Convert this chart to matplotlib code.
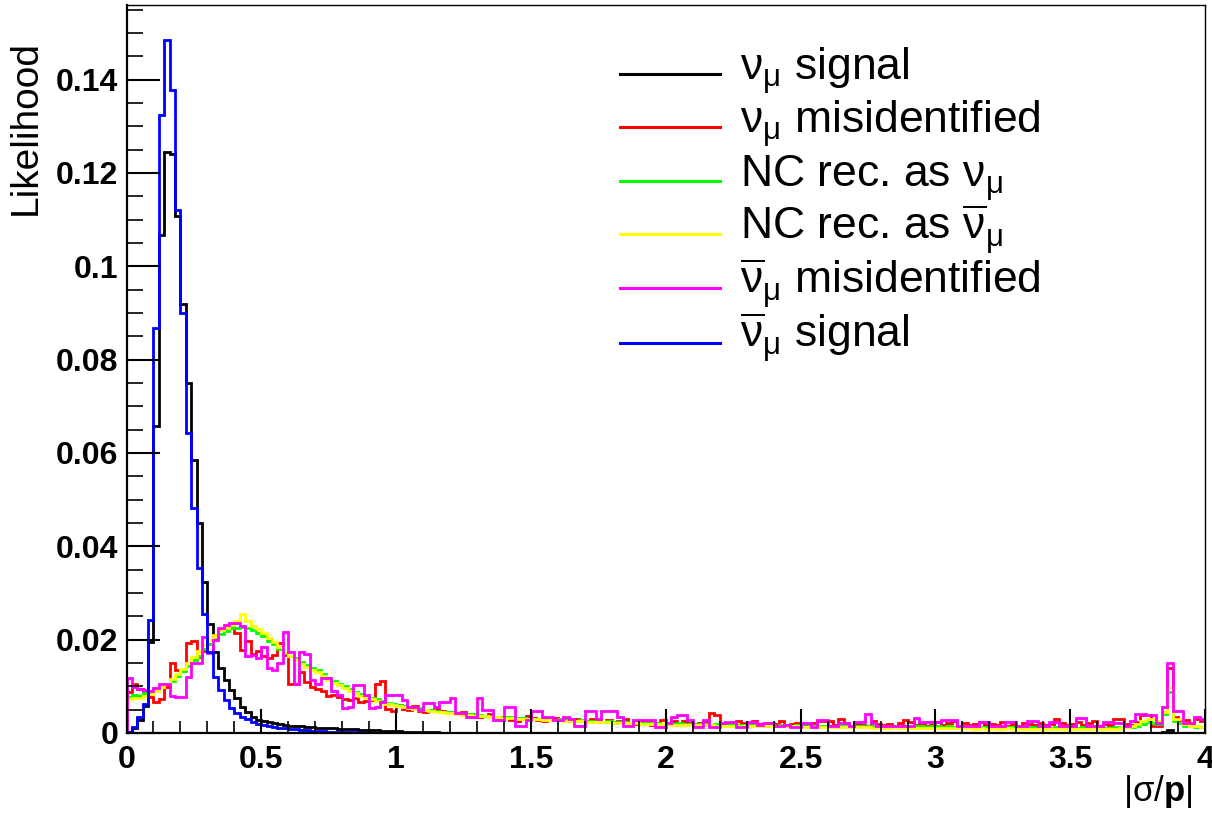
import numpy as np
import matplotlib.pyplot as plt
from matplotlib.lines import Line2D
from matplotlib.ticker import MultipleLocator, FormatStrFormatter

plt.rcParams['font.family'] = 'Liberation Sans'
plt.rcParams['mathtext.fontset'] = 'custom'
plt.rcParams['mathtext.rm'] = 'Liberation Sans'
plt.rcParams['mathtext.it'] = 'Liberation Sans:italic'
plt.rcParams['mathtext.bf'] = 'Liberation Sans:bold'

# 200 bins of 0.02 in |sigma/p|, normalised to unit area
edges = np.linspace(0, 4, 201)

numu_signal = [
    0.0002, 0.0010, 0.0028, 0.0058, 0.0196, 0.0657, 0.1067, 0.1246, 0.1240, 0.1108,
    0.0920, 0.0749, 0.0584, 0.0449, 0.0323, 0.0234, 0.0174, 0.0139, 0.0114, 0.0092,
    0.0074, 0.0056, 0.0046, 0.0035, 0.0028, 0.0025, 0.0023, 0.0021, 0.0019, 0.0018,
    0.0016, 0.0015, 0.0014, 0.0013, 0.0012, 0.0011, 0.0011, 0.0010, 0.0010, 0.0009,
    0.0009, 0.0008, 0.0008, 0.0007, 0.0007, 0.0006, 0.0006, 0.0005, 0.0005, 0.0004,
    0.0004, 0.0003, 0.0003, 0.0003, 0.0002, 0.0002, 0.0002, 0.0002, 0.0001, 0.0001,
] + [0.0001, 0.0, 0.0, 0.0001, 0.0, 0.0, 0.0, 0.0001, 0.0, 0.0] * 13 + [
    0.0, 0.0, 0.0002, 0.0006, 0.0001, 0.0, 0.0, 0.0, 0.0, 0.0,
]

numu_misid = [
    0.0088, 0.0104, 0.0095, 0.0090, 0.0078, 0.0066, 0.0072, 0.0098, 0.0150, 0.0136,
    0.0136, 0.0192, 0.0198, 0.0162, 0.0175, 0.0190, 0.0210, 0.0222, 0.0226, 0.0228,
    0.0215, 0.0178, 0.0198, 0.0170, 0.0176, 0.0165, 0.0160, 0.0168, 0.0192, 0.0168,
    0.0106, 0.0106, 0.0130, 0.0110, 0.0098, 0.0094, 0.0090, 0.0080, 0.0082, 0.0078,
    0.0072, 0.0070, 0.0074, 0.0066, 0.0068, 0.0070, 0.0106, 0.0112, 0.0052, 0.0048,
    0.0060, 0.0052, 0.0050, 0.0058, 0.0048, 0.0046, 0.0050, 0.0052, 0.0048, 0.0044,
    0.0046, 0.0042, 0.0046, 0.0040, 0.0038, 0.0034, 0.0036, 0.0040, 0.0034, 0.0030,
    0.0034, 0.0028, 0.0026, 0.0030, 0.0036, 0.0032, 0.0028, 0.0026, 0.0030, 0.0032,
    0.0028, 0.0032, 0.0026, 0.0030, 0.0026, 0.0026, 0.0030, 0.0026, 0.0024, 0.0028,
    0.0022, 0.0026, 0.0030, 0.0022, 0.0020, 0.0024, 0.0026, 0.0018, 0.0022, 0.0028,
    0.0022, 0.0026, 0.0020, 0.0026, 0.0022, 0.0020, 0.0022, 0.0026, 0.0042, 0.0039,
    0.0022, 0.0020, 0.0018, 0.0026, 0.0022, 0.0018, 0.0026, 0.0020, 0.0016, 0.0022,
    0.0020, 0.0026, 0.0018, 0.0020, 0.0022, 0.0018, 0.0016, 0.0022, 0.0026, 0.0026,
    0.0026, 0.0018, 0.0030, 0.0022, 0.0016, 0.0020, 0.0018, 0.0016, 0.0026, 0.0020,
    0.0018, 0.0020, 0.0014, 0.0022, 0.0028, 0.0024, 0.0018, 0.0022, 0.0016, 0.0018,
    0.0024, 0.0018, 0.0022, 0.0026, 0.0016, 0.0022, 0.0018, 0.0020, 0.0024, 0.0018,
    0.0020, 0.0018, 0.0024, 0.0016, 0.0020, 0.0016, 0.0022, 0.0020, 0.0018, 0.0022,
    0.0018, 0.0020, 0.0030, 0.0022, 0.0018, 0.0020, 0.0024, 0.0018, 0.0022, 0.0026,
    0.0014, 0.0020, 0.0018, 0.0030, 0.0030, 0.0020, 0.0018, 0.0024, 0.0039, 0.0039,
    0.0014, 0.0014, 0.0046, 0.0139, 0.0034, 0.0028, 0.0028, 0.0022, 0.0030, 0.0026,
]

nc_as_numu = [
    0.0078, 0.0082, 0.0080, 0.0086, 0.0088, 0.0092, 0.0098, 0.0104, 0.0112, 0.0122,
    0.0132, 0.0144, 0.0156, 0.0166, 0.0180, 0.0190, 0.0202, 0.0212, 0.0218, 0.0224,
    0.0226, 0.0228, 0.0224, 0.0220, 0.0214, 0.0208, 0.0198, 0.0190, 0.0180, 0.0172,
    0.0166, 0.0160, 0.0152, 0.0146, 0.0140, 0.0134, 0.0126, 0.0118, 0.0112, 0.0106,
    0.0100, 0.0094, 0.0088, 0.0084, 0.0080, 0.0076, 0.0072, 0.0068, 0.0065, 0.0062,
    0.0060, 0.0058, 0.0055, 0.0054, 0.0053, 0.0050, 0.0050, 0.0047, 0.0046, 0.0045,
    0.0045, 0.0042, 0.0041, 0.0040, 0.0041, 0.0038, 0.0037, 0.0037, 0.0035, 0.0035,
    0.0034, 0.0034, 0.0032, 0.0033, 0.0031, 0.0031, 0.0030, 0.0031, 0.0029, 0.0028,
    0.0029, 0.0027, 0.0028, 0.0026, 0.0027, 0.0026, 0.0025, 0.0026, 0.0024, 0.0025,
    0.0024, 0.0023, 0.0024, 0.0022, 0.0023, 0.0022, 0.0021, 0.0022, 0.0021, 0.0020,
    0.0021, 0.0020, 0.0021, 0.0019, 0.0020, 0.0019, 0.0019, 0.0020, 0.0018, 0.0019,
    0.0018, 0.0018, 0.0019, 0.0017, 0.0018, 0.0017, 0.0018, 0.0016, 0.0017, 0.0017,
    0.0016, 0.0017, 0.0016, 0.0016, 0.0017, 0.0015, 0.0016, 0.0016, 0.0015, 0.0016,
    0.0015, 0.0016, 0.0015, 0.0015, 0.0016, 0.0014, 0.0015, 0.0015, 0.0014, 0.0015,
    0.0014, 0.0015, 0.0014, 0.0014, 0.0015, 0.0013, 0.0014, 0.0014, 0.0013, 0.0014,
    0.0014, 0.0013, 0.0014, 0.0013, 0.0013, 0.0014, 0.0013, 0.0013, 0.0012, 0.0013,
    0.0013, 0.0012, 0.0013, 0.0012, 0.0013, 0.0012, 0.0012, 0.0013, 0.0012, 0.0012,
    0.0012, 0.0011, 0.0012, 0.0012, 0.0011, 0.0012, 0.0011, 0.0012, 0.0011, 0.0011,
    0.0012, 0.0011, 0.0011, 0.0012, 0.0011, 0.0012, 0.0013, 0.0016, 0.0020, 0.0024,
    0.0022, 0.0020, 0.0040, 0.0088, 0.0026, 0.0022, 0.0016, 0.0014, 0.0013, 0.0012,
]

nc_as_anumu = [
    0.0072, 0.0074, 0.0076, 0.0080, 0.0084, 0.0090, 0.0098, 0.0106, 0.0116, 0.0126,
    0.0138, 0.0150, 0.0162, 0.0176, 0.0188, 0.0200, 0.0210, 0.0220, 0.0226, 0.0232,
    0.0240, 0.0254, 0.0240, 0.0230, 0.0222, 0.0214, 0.0204, 0.0194, 0.0184, 0.0174,
    0.0164, 0.0156, 0.0148, 0.0142, 0.0136, 0.0130, 0.0122, 0.0114, 0.0108, 0.0102,
    0.0096, 0.0090, 0.0086, 0.0080, 0.0076, 0.0072, 0.0068, 0.0065, 0.0062, 0.0059,
    0.0058, 0.0056, 0.0054, 0.0052, 0.0050, 0.0049, 0.0047, 0.0046, 0.0044, 0.0043,
    0.0042, 0.0041, 0.0039, 0.0039, 0.0037, 0.0036, 0.0036, 0.0034, 0.0034, 0.0033,
    0.0032, 0.0032, 0.0031, 0.0030, 0.0030, 0.0029, 0.0029, 0.0028, 0.0028, 0.0027,
    0.0027, 0.0026, 0.0026, 0.0025, 0.0025, 0.0024, 0.0024, 0.0023, 0.0023, 0.0023,
    0.0022, 0.0022, 0.0021, 0.0021, 0.0021, 0.0020, 0.0020, 0.0020, 0.0019, 0.0019,
    0.0019, 0.0018, 0.0018, 0.0018, 0.0018, 0.0017, 0.0017, 0.0017, 0.0017, 0.0016,
    0.0016, 0.0016, 0.0016, 0.0016, 0.0015, 0.0015, 0.0015, 0.0015, 0.0015, 0.0014,
    0.0014, 0.0014, 0.0014, 0.0014, 0.0014, 0.0013, 0.0013, 0.0013, 0.0013, 0.0013,
    0.0013, 0.0012, 0.0013, 0.0012, 0.0012, 0.0012, 0.0012, 0.0012, 0.0011, 0.0012,
    0.0011, 0.0011, 0.0012, 0.0011, 0.0011, 0.0011, 0.0011, 0.0010, 0.0011, 0.0010,
    0.0010, 0.0011, 0.0010, 0.0010, 0.0010, 0.0010, 0.0010, 0.0009, 0.0010, 0.0009,
    0.0010, 0.0009, 0.0009, 0.0010, 0.0009, 0.0009, 0.0009, 0.0009, 0.0009, 0.0008,
    0.0009, 0.0008, 0.0009, 0.0008, 0.0009, 0.0008, 0.0008, 0.0009, 0.0008, 0.0008,
    0.0008, 0.0008, 0.0009, 0.0008, 0.0010, 0.0012, 0.0016, 0.0020, 0.0026, 0.0030,
    0.0030, 0.0026, 0.0046, 0.0099, 0.0030, 0.0030, 0.0020, 0.0016, 0.0014, 0.0012,
]

anumu_misid = [
    0.0117, 0.0098, 0.0094, 0.0092, 0.0090, 0.0096, 0.0106, 0.0104, 0.0080, 0.0078,
    0.0078, 0.0120, 0.0150, 0.0150, 0.0205, 0.0172, 0.0200, 0.0224, 0.0232, 0.0236,
    0.0236, 0.0230, 0.0164, 0.0168, 0.0160, 0.0185, 0.0140, 0.0135, 0.0150, 0.0217,
    0.0174, 0.0106, 0.0174, 0.0170, 0.0114, 0.0106, 0.0117, 0.0117, 0.0090, 0.0081,
    0.0053, 0.0055, 0.0103, 0.0103, 0.0081, 0.0053, 0.0055, 0.0067, 0.0081, 0.0081,
    0.0081, 0.0071, 0.0056, 0.0056, 0.0049, 0.0064, 0.0064, 0.0056, 0.0067, 0.0067,
    0.0074, 0.0042, 0.0042, 0.0035, 0.0035, 0.0074, 0.0049, 0.0049, 0.0028, 0.0028,
    0.0055, 0.0055, 0.0014, 0.0014, 0.0028, 0.0048, 0.0048, 0.0034, 0.0034, 0.0028,
    0.0028, 0.0035, 0.0029, 0.0015, 0.0015, 0.0048, 0.0048, 0.0031, 0.0048, 0.0048,
    0.0048, 0.0034, 0.0014, 0.0014, 0.0028, 0.0028, 0.0028, 0.0028, 0.0012, 0.0012,
    0.0021, 0.0035, 0.0039, 0.0039, 0.0028, 0.0012, 0.0012, 0.0028, 0.0012, 0.0012,
    0.0021, 0.0024, 0.0024, 0.0012, 0.0012, 0.0024, 0.0024, 0.0017, 0.0022, 0.0022,
    0.0015, 0.0015, 0.0017, 0.0012, 0.0012, 0.0021, 0.0021, 0.0012, 0.0028, 0.0028,
    0.0015, 0.0015, 0.0022, 0.0022, 0.0015, 0.0024, 0.0024, 0.0040, 0.0021, 0.0015,
    0.0015, 0.0015, 0.0015, 0.0015, 0.0014, 0.0014, 0.0033, 0.0024, 0.0024, 0.0024,
    0.0024, 0.0028, 0.0028, 0.0028, 0.0015, 0.0015, 0.0014, 0.0014, 0.0024, 0.0024,
    0.0015, 0.0015, 0.0015, 0.0024, 0.0024, 0.0015, 0.0015, 0.0026, 0.0026, 0.0015,
    0.0015, 0.0024, 0.0024, 0.0015, 0.0015, 0.0015, 0.0033, 0.0033, 0.0015, 0.0015,
    0.0015, 0.0024, 0.0024, 0.0021, 0.0021, 0.0015, 0.0026, 0.0040, 0.0040, 0.0039,
    0.0039, 0.0021, 0.0055, 0.0151, 0.0048, 0.0048, 0.0021, 0.0021, 0.0035, 0.0030,
]

anumu_signal = [
    0.0002, 0.0013, 0.0034, 0.0062, 0.0242, 0.0867, 0.1325, 0.1486, 0.1378, 0.1121,
    0.0900, 0.0643, 0.0482, 0.0354, 0.0256, 0.0174, 0.0121, 0.0092, 0.0070, 0.0053,
    0.0042, 0.0035, 0.0029, 0.0024, 0.0020, 0.0017, 0.0015, 0.0013, 0.0011, 0.0010,
    0.0009, 0.0008, 0.0007, 0.0006, 0.0005, 0.0004, 0.0004, 0.0003, 0.0003, 0.0002,
    0.0002, 0.0002, 0.0002, 0.0001, 0.0001, 0.0001, 0.0001, 0.0001, 0.0001, 0.0001,
] + [0.0] * 150

series = [
    (numu_signal, 'black', r'$\mathrm{\nu}_{\mathrm{\mu}}$ signal'),
    (numu_misid, '#ff0000', r'$\mathrm{\nu}_{\mathrm{\mu}}$ misidentified'),
    (nc_as_numu, '#00ff00', r'NC rec. as $\mathrm{\nu}_{\mathrm{\mu}}$'),
    (nc_as_anumu, '#ffff00', r'NC rec. as $\overline{\mathrm{\nu}}_{\mathrm{\mu}}$'),
    (anumu_misid, '#ff00ff', r'$\overline{\mathrm{\nu}}_{\mathrm{\mu}}$ misidentified'),
    (anumu_signal, '#0000ff', r'$\overline{\mathrm{\nu}}_{\mathrm{\mu}}$ signal'),
]

W, H = 1212, 817
fig = plt.figure(figsize=(W / 100, H / 100), dpi=100)
ax = fig.add_axes([126.5 / W, 84 / H, 1078.5 / W, 728 / H])

for vals, col, lab in series:
    ax.stairs(vals, edges, color=col, lw=2.0)

ax.set_xlim(0, 4)
ax.set_ylim(0, 0.156)

ax.xaxis.set_major_locator(MultipleLocator(0.5))
ax.xaxis.set_minor_locator(MultipleLocator(0.1))
ax.yaxis.set_major_locator(MultipleLocator(0.02))
ax.yaxis.set_minor_locator(MultipleLocator(0.005))
ax.xaxis.set_major_formatter(FormatStrFormatter('%g'))
ax.yaxis.set_major_formatter(FormatStrFormatter('%g'))

ax.tick_params(which='both', direction='in', top=False, right=False)
ax.tick_params(axis='y', which='major', length=24, width=1.5, pad=6, labelsize=23)
ax.tick_params(axis='y', which='minor', length=11.5, width=1.2)
ax.tick_params(axis='x', which='major', length=17, width=1.5, pad=9, labelsize=23)
ax.tick_params(axis='x', which='minor', length=8.5, width=1.2)
for lbl in ax.get_xticklabels() + ax.get_yticklabels():
    lbl.set_fontweight('bold')

for side in ['left', 'bottom']:
    ax.spines[side].set_linewidth(1.6)
for side in ['top', 'right']:
    ax.spines[side].set_linewidth(1.0)

fig.text(26 / W, 1 - 40 / H, 'Likelihood', rotation=90, ha='center', va='top',
         fontsize=28)
fig.text(1192 / W, 1 - 792 / H, r'$\mathrm{|\sigma/}\mathbf{p}\mathrm{|}$',
         ha='right', va='center', fontsize=25)

# legend drawn by hand, no frame
row_y = [74, 127.3, 181, 234.3, 288.3, 342.7]
for (vals, col, lab), y in zip(series, row_y):
    fig.add_artist(Line2D([620 / W, 720 / W], [1 - y / H] * 2, color=col, lw=2.2))
    fig.text(740 / W, 1 - (y + 6.5) / H, lab, fontsize=32, va='baseline')

fig.savefig('out.png', dpi=100)
